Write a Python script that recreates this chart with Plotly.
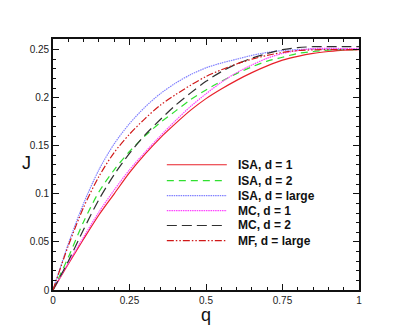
import plotly.graph_objects as go

# occupancy q and current J for each model
q = [0, 0.05, 0.1, 0.15, 0.2, 0.25, 0.3, 0.35, 0.4, 0.45, 0.5,
     0.55, 0.6, 0.65, 0.7, 0.75, 0.8, 0.85, 0.9, 0.95, 1.0]

isa_d1 = [0, 0.027, 0.053, 0.078, 0.100, 0.122, 0.141, 0.158, 0.173, 0.187, 0.199,
          0.209, 0.218, 0.226, 0.233, 0.239, 0.243, 0.246, 0.248, 0.2495, 0.250]
isa_d2 = [0, 0.034, 0.071, 0.102, 0.125, 0.144, 0.160, 0.174, 0.186, 0.198, 0.208,
          0.217, 0.225, 0.232, 0.238, 0.242, 0.246, 0.248, 0.2495, 0.250, 0.250]
isa_large = [0, 0.048, 0.090, 0.125, 0.152, 0.173, 0.190, 0.204, 0.215, 0.224, 0.231,
             0.236, 0.240, 0.244, 0.247, 0.249, 0.250, 0.2505, 0.2505, 0.2503, 0.2503]
mc_d1 = [0, 0.028, 0.055, 0.081, 0.104, 0.125, 0.143, 0.160, 0.176, 0.191, 0.204,
         0.216, 0.226, 0.234, 0.241, 0.246, 0.249, 0.2510, 0.2512, 0.2511, 0.251]
mc_d2 = [0, 0.030, 0.063, 0.094, 0.120, 0.142, 0.161, 0.177, 0.192, 0.205, 0.217,
         0.227, 0.235, 0.241, 0.246, 0.250, 0.252, 0.253, 0.253, 0.253, 0.253]
mf_large = [0, 0.046, 0.086, 0.118, 0.143, 0.162, 0.178, 0.192, 0.203, 0.213, 0.222,
            0.229, 0.235, 0.240, 0.244, 0.247, 0.249, 0.2497, 0.250, 0.250, 0.250]

labels = ["ISA, d = 1", "ISA, d = 2", "ISA, d = large",
          "MC, d = 1", "MC, d = 2", "MF, d = large"]
series = [isa_d1, isa_d2, isa_large, mc_d1, mc_d2, mf_large]

styles = [
    dict(color="#e8202a", dash="solid", width=1.2),
    dict(color="#30e030", dash="7px,5px", width=1.2),
    dict(color="#8080ff", dash="1.5px,0.8px", width=1.2),
    dict(color="#ff40ff", dash="1.5px,0.8px", width=1.2),
    dict(color="#303030", dash="10px,5px", width=1.2),
    dict(color="#d01818", dash="7px,2px,1.5px,2px,1.5px,2px", width=1.2),
]

FONT = "Liberation Sans, Arial, sans-serif"

fig = go.Figure()
for name, ys, st in zip(labels, series, styles):
    fig.add_trace(go.Scatter(x=q, y=ys, mode="lines", name=name,
                             line=dict(shape="spline", smoothing=0.8, **st)))

# hand-drawn legend inside the plot
leg_y = [0.499, 0.436, 0.376, 0.316, 0.257, 0.197]
shapes, annots = [], []
for yy, name, st in zip(leg_y, labels, styles):
    shapes.append(dict(type="line", xref="paper", yref="paper",
                       x0=0.372, x1=0.568, y0=yy, y1=yy, line=st))
    annots.append(dict(xref="paper", yref="paper", x=0.598, y=yy,
                       text=f"<b>{name}</b>", showarrow=False,
                       xanchor="left", yanchor="middle",
                       font=dict(family=FONT, size=12, color="#111")))

annots.append(dict(xref="paper", yref="paper", x=0.5, y=-0.052, text="q",
                   showarrow=False, xanchor="center", yanchor="top",
                   font=dict(family=FONT, size=18, color="#111")))
annots.append(dict(xref="paper", yref="paper", x=-0.066, y=0.506, text="J",
                   showarrow=False, xanchor="right", yanchor="middle",
                   font=dict(family=FONT, size=18, color="#111")))

axis_common = dict(
    showline=True, linecolor="#111", linewidth=1.6, mirror="allticks",
    ticks="inside", ticklen=6, tickwidth=1.4, tickcolor="#111",
    showgrid=False, zeroline=False,
    tickfont=dict(family=FONT, size=10, color="#222"),
)

# page body has an 8px margin, so the figure is shrunk and shifted to fit
fig.update_layout(
    width=401, height=320,
    margin=dict(l=45, r=50, t=31, b=38),
    paper_bgcolor="white", plot_bgcolor="white",
    showlegend=False,
    shapes=shapes, annotations=annots,
    xaxis=dict(range=[0, 1], tickvals=[0, 0.25, 0.5, 0.75, 1],
               ticktext=["0", "0.25", "0.5", "0.75", "1"],
               minor=dict(dtick=0.05, ticks="inside", ticklen=3, tickcolor="#111"),
               **axis_common),
    yaxis=dict(range=[0, 0.261], tickvals=[0, 0.05, 0.1, 0.15, 0.2, 0.25],
               ticktext=["0", "0.05", "0.1", "0.15", "0.2", "0.25"],
               minor=dict(dtick=0.01, ticks="inside", ticklen=3, tickcolor="#111"),
               **axis_common),
)

fig.write_html("out.html")
